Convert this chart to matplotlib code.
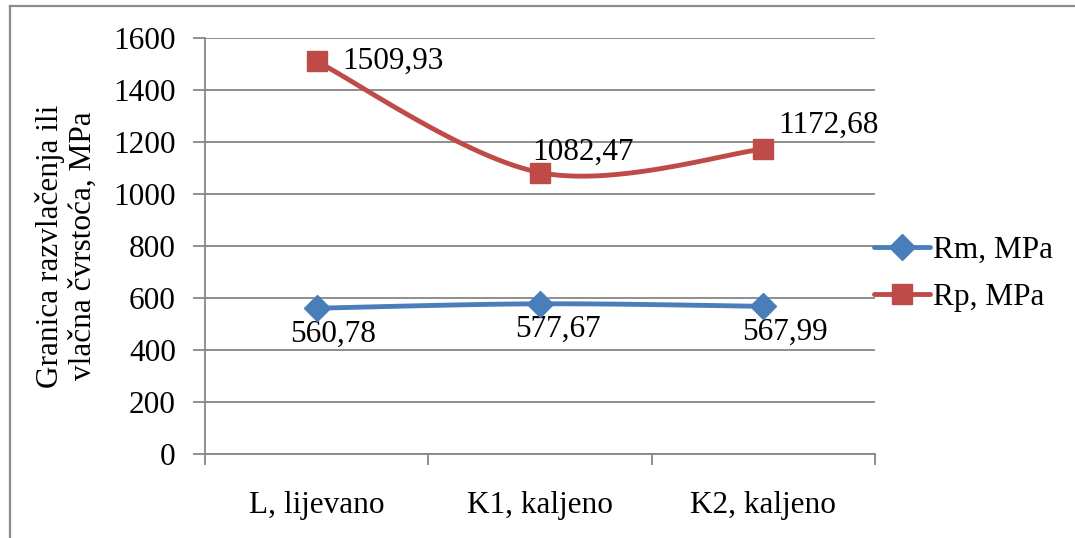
import numpy as np
import matplotlib
matplotlib.use("Agg")
import matplotlib.pyplot as plt
from matplotlib.lines import Line2D

plt.rcParams['font.family'] = ['Liberation Serif', 'DejaVu Serif']

categories = ["L, lijevano", "K1, kaljeno", "K2, kaljeno"]
rm_values = [560.78, 577.67, 567.99]
rp_values = [1509.93, 1082.47, 1172.68]
rm_labels = ["560,78", "577,67", "567,99"]
rp_labels = ["1509,93", "1082,47", "1172,68"]
y_ticks = [0, 200, 400, 600, 800, 1000, 1200, 1400, 1600]

W, H = 1075, 538
fig = plt.figure(figsize=(W / 100, H / 100), dpi=100)
fig.patch.set_facecolor("white")

# axes box in pixel coordinates
x0, x1 = 205, 875
y_top, y_bot = 38, 454
ax = fig.add_axes([x0 / W, 1 - y_bot / H, (x1 - x0) / W, (y_bot - y_top) / H])

FS = 22.5
GRID = "#868686"
BLUE = "#4A7EBB"
RED = "#BE4B48"
PX = 72 / 100  # points per pixel

n = len(categories)
ax.set_xlim(-0.5, n - 0.5)
ax.set_ylim(0, 1600)
ax.set_yticks(y_ticks)
ax.set_yticklabels([str(v) for v in y_ticks], fontsize=FS)
ax.set_xticks(np.arange(-0.5, n, 1.0))
ax.set_xticklabels([])
ax.set_xticks(np.arange(n), minor=True)
ax.set_xticklabels(categories, minor=True, fontsize=FS)
ax.tick_params(axis="x", which="minor", length=0, pad=27)
ax.tick_params(axis="x", which="major", length=8, width=1.3, color=GRID, direction="out")
ax.tick_params(axis="y", length=9, width=1.3, color=GRID, direction="out", pad=12)
ax.grid(axis="y", color=GRID, linewidth=1.3)
ax.set_axisbelow(True)
for s in ["top", "right"]:
    ax.spines[s].set_visible(False)
for s in ["left", "bottom"]:
    ax.spines[s].set_color(GRID)
    ax.spines[s].set_linewidth(1.3)

ax.set_ylabel("Granica razvlačenja ili\nvlačna čvrstoća, MPa", fontsize=FS,
              linespacing=1.2, labelpad=11)

fig.canvas.draw()


def smooth(xs, ys, steps=40):
    """Bezier smoothing of a polyline, computed in display space."""
    pts = ax.transData.transform(np.column_stack([xs, ys]))
    m = len(pts)
    out = []
    for i in range(m - 1):
        p_prev = pts[max(i - 1, 0)]
        p0 = pts[i]
        p1 = pts[i + 1]
        p_next = pts[min(i + 2, m - 1)]
        c1 = p0 + (p1 - p_prev) / 6.0
        c2 = p1 - (p_next - p0) / 6.0
        t = np.linspace(0, 1, steps)[:, None]
        seg = ((1 - t) ** 3) * p0 + 3 * ((1 - t) ** 2) * t * c1 + 3 * (1 - t) * t ** 2 * c2 + t ** 3 * p1
        out.append(seg if i == 0 else seg[1:])
    curve = np.vstack(out)
    return ax.transData.inverted().transform(curve)


xs = np.arange(n)
c_rm = smooth(xs, rm_values)
c_rp = smooth(xs, rp_values)
LW = 3.5
ax.plot(c_rm[:, 0], c_rm[:, 1], color=BLUE, lw=LW, solid_capstyle="round", zorder=3)
ax.plot(c_rp[:, 0], c_rp[:, 1], color=RED, lw=LW, solid_capstyle="round", zorder=3)
ax.plot(xs, rm_values, ls="none", marker="D", ms=13, color=BLUE, zorder=4)
ax.plot(xs, rp_values, ls="none", marker="s", ms=14, color=RED, zorder=4)

# value labels (offsets in pixels)
rm_offsets = [(16, -26), (18, -26), (22, -26)]
for x, v, lab, (dx, dy) in zip(xs, rm_values, rm_labels, rm_offsets):
    ax.annotate(lab, (x, v), xytext=(dx * PX, dy * PX), textcoords="offset points",
                ha="center", va="center", fontsize=FS)
rp_offsets = [(26, 0), (-8, 20), (15, 24)]
for x, v, lab, (dx, dy) in zip(xs, rp_values, rp_labels, rp_offsets):
    ax.annotate(lab, (x, v), xytext=(dx * PX, dy * PX), textcoords="offset points",
                ha="left", va="center", fontsize=FS)

handles = [
    Line2D([], [], color=BLUE, lw=LW, marker="D", ms=13, solid_capstyle="round"),
    Line2D([], [], color=RED, lw=LW, marker="s", ms=14, solid_capstyle="round"),
]
fig.legend(handles, ["Rm, MPa", "Rp, MPa"], loc="center left",
           bbox_to_anchor=(874 / W, 1 - 274 / H), frameon=False, fontsize=FS,
           handlelength=1.8, handletextpad=0.1, labelspacing=0.6, borderaxespad=0,
           borderpad=0)

# outer chart frame (left and top edges)
fig.add_artist(Line2D([9.5 / W, 9.5 / W], [0, 1 - 6 / H], transform=fig.transFigure,
                      color="#8C8C8C", lw=1.6))
fig.add_artist(Line2D([9.5 / W, 1], [1 - 6 / H, 1 - 6 / H], transform=fig.transFigure,
                      color="#8C8C8C", lw=1.6))

fig.savefig("out.png", dpi=100, facecolor="white")
